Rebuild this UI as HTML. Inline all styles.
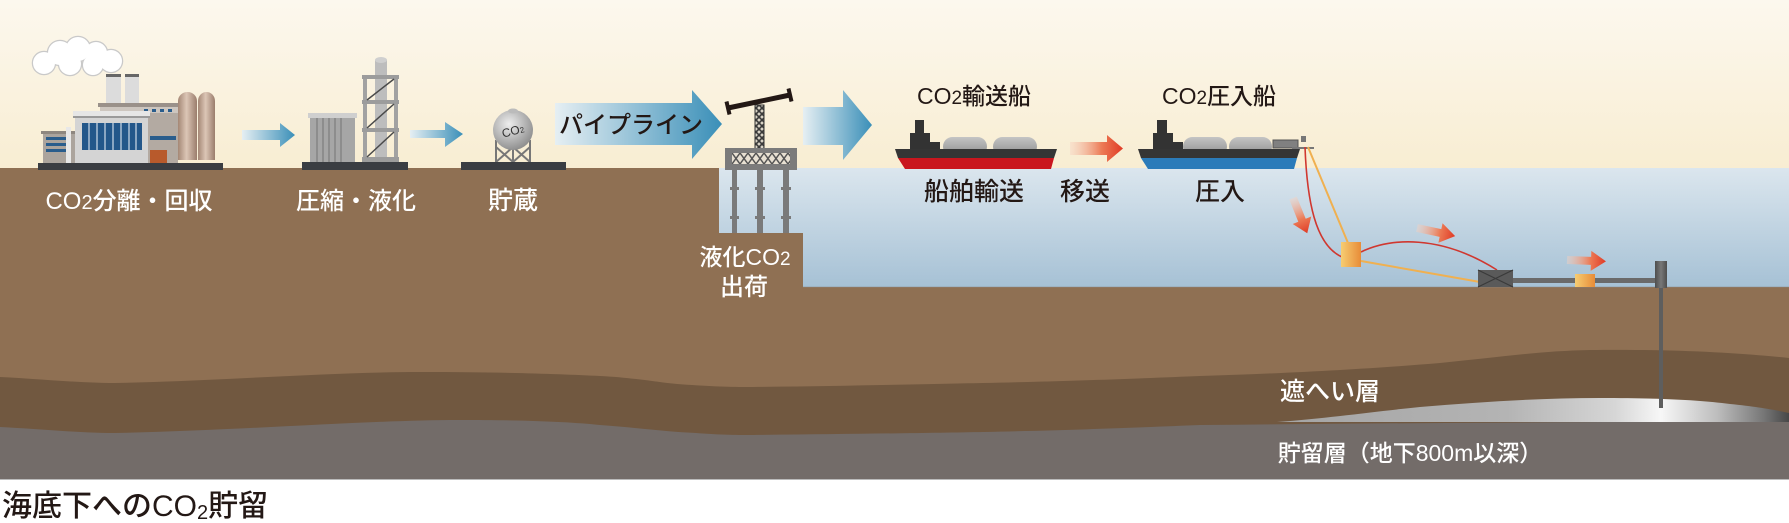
<!DOCTYPE html>
<html><head><meta charset="utf-8">
<style>
html,body{margin:0;padding:0;background:#fff;}
svg{display:block;}
text{font-family:"Liberation Sans","Noto Sans CJK JP",sans-serif;font-weight:500;}
</style></head><body>
<svg width="1789" height="523" viewBox="0 0 1789 523" xmlns="http://www.w3.org/2000/svg">
<defs>
 <linearGradient id="sky" x1="0" y1="0" x2="0" y2="1"><stop offset="0" stop-color="#fcf8ee"/><stop offset="1" stop-color="#f8edd2"/></linearGradient>
 <linearGradient id="sea" x1="0" y1="0" x2="0" y2="1"><stop offset="0" stop-color="#dbe6ee"/><stop offset="1" stop-color="#a6c1d5"/></linearGradient>
 <linearGradient id="ba" x1="0" y1="0" x2="1" y2="0"><stop offset="0" stop-color="#e6eff3"/><stop offset="1" stop-color="#3a8fb8"/></linearGradient>
 <linearGradient id="ra" x1="0" y1="0" x2="1" y2="0"><stop offset="0" stop-color="#f7d2c0" stop-opacity="0.4"/><stop offset="0.6" stop-color="#ec7a55"/><stop offset="1" stop-color="#e03a25"/></linearGradient>
 <linearGradient id="silo" x1="0" y1="0" x2="1" y2="0"><stop offset="0" stop-color="#a48775"/><stop offset="0.45" stop-color="#dcc6b6"/><stop offset="1" stop-color="#9a7d6c"/></linearGradient>
 <linearGradient id="tank" x1="0" y1="0" x2="0" y2="1"><stop offset="0" stop-color="#c4c4c4"/><stop offset="0.5" stop-color="#a9a9a9"/><stop offset="1" stop-color="#8c8c8c"/></linearGradient>
 <radialGradient id="sph" cx="0.4" cy="0.35" r="0.7"><stop offset="0" stop-color="#eeeeee"/><stop offset="1" stop-color="#8a8a8a"/></radialGradient>
 <linearGradient id="buoy" x1="0" y1="0" x2="1" y2="0"><stop offset="0" stop-color="#f6cd72"/><stop offset="1" stop-color="#e88c38"/></linearGradient>
 <linearGradient id="well" x1="0" y1="0" x2="1" y2="0"><stop offset="0" stop-color="#4e4e4e"/><stop offset="0.5" stop-color="#777"/><stop offset="1" stop-color="#4e4e4e"/></linearGradient>
 <linearGradient id="lens" gradientUnits="userSpaceOnUse" x1="1277" y1="0" x2="1789" y2="0">
  <stop offset="0" stop-color="#a4a4a4"/><stop offset="0.45" stop-color="#b4b4b4"/><stop offset="0.66" stop-color="#d6d6d6"/><stop offset="0.75" stop-color="#f7f7f7"/><stop offset="0.86" stop-color="#bdbdbd"/><stop offset="0.95" stop-color="#777"/><stop offset="1" stop-color="#474747"/>
 </linearGradient>
 <pattern id="lat" width="6" height="6" patternUnits="userSpaceOnUse"><rect width="6" height="6" fill="#d9d3c6"/><path d="M0,0L6,6M6,0L0,6" stroke="#3a3a3a" stroke-width="1.6"/></pattern>
 <pattern id="lat2" x="732" y="153" width="8" height="11" patternUnits="userSpaceOnUse"><rect width="8" height="11" fill="#e7e0d2"/><path d="M0,0L8,11M8,0L0,11" stroke="#555" stroke-width="1.5"/></pattern>
</defs>

<!-- background -->
<rect x="0" y="0" width="1789" height="523" fill="#fff"/>
<rect x="0" y="0" width="1789" height="169" fill="url(#sky)"/>
<rect x="0" y="168" width="1789" height="312" fill="#8f7053"/>
<polygon points="719,168 1789,168 1789,287 803,287 803,233 719,233" fill="url(#sea)"/>
<line x1="803" y1="287" x2="1789" y2="287" stroke="#8a8a8a" stroke-width="1" opacity="0.5"/>

<!-- cap rock -->
<path d="M0,377 C40,379 80,383 115,383 C220,381 330,372 421,372 C500,372 560,374 600,376 C640,378 665,384 692,385 C720,387 740,387 753,387 C850,386 930,384 983,383 C1080,381 1150,378 1200,376 C1300,373 1380,368 1440,363 C1500,357 1540,351 1590,350 C1680,349 1740,353 1789,358 L1789,480 L0,480 Z" fill="#715840"/>
<!-- reservoir -->
<path d="M0,427 C40,429 80,433 115,433 C250,430 370,420 459,420 C530,420 570,422 600,425 C640,428 670,432 696,433 C720,435 740,435 753,435 C850,434 930,433 983,432 C1080,430 1150,427 1200,425 C1400,423 1600,422 1789,421 L1789,479 L0,479 Z" fill="#736c69"/>
<!-- lens -->
<path d="M1277,422 C1330,418 1370,412 1420,407 C1480,402 1540,398 1600,398 C1660,398 1700,400 1730,404 C1760,407 1775,410 1789,413 L1789,422 Z" fill="url(#lens)"/>
<line x1="0" y1="479.5" x2="1789" y2="479.5" stroke="#bbb" stroke-width="1"/>

<!-- well -->
<rect x="1659" y="287" width="4" height="121" fill="#5e5e5e"/>

<!-- ===== Factory ===== -->
<g>
 <g fill="#fff" stroke="#c9c9c9" stroke-width="2.5">
  <circle cx="44" cy="63" r="11"/><circle cx="60" cy="53" r="12"/><circle cx="78" cy="49" r="12"/><circle cx="96" cy="53" r="11"/><circle cx="111" cy="61" r="11"/><circle cx="70" cy="64" r="11"/><circle cx="93" cy="65" r="10"/>
 </g>
 <g fill="#fff">
  <circle cx="44" cy="63" r="11"/><circle cx="60" cy="53" r="12"/><circle cx="78" cy="49" r="12"/><circle cx="96" cy="53" r="11"/><circle cx="111" cy="61" r="11"/><circle cx="70" cy="64" r="11"/><circle cx="93" cy="65" r="10"/>
 </g>
 <rect x="106" y="74" width="15" height="32" fill="#dcdcdc"/><rect x="106" y="74" width="15" height="3" fill="#666"/>
 <rect x="125" y="74" width="14" height="32" fill="#dcdcdc"/><rect x="125" y="74" width="14" height="3" fill="#666"/>
 <rect x="100" y="103" width="78" height="60" fill="#b3aaa2"/>
 <rect x="98" y="103" width="82" height="4" fill="#9a918a"/>
 <rect x="100" y="107" width="78" height="6" fill="#cdc6bf"/>
 <g fill="#2a5d8c"><rect x="152" y="109" width="4" height="3"/><rect x="160" y="109" width="4" height="3"/><rect x="168" y="109" width="4" height="3"/><rect x="144" y="109" width="4" height="3"/></g>
 <rect x="43" y="133" width="34" height="30" fill="#aba49d"/>
 <rect x="41" y="131" width="38" height="3" fill="#8e8780"/>
 <g fill="#2a5d8c"><rect x="46" y="137" width="22" height="3"/><rect x="46" y="143" width="22" height="3"/><rect x="46" y="149" width="22" height="3"/></g>
 <rect x="66" y="127" width="5" height="36" fill="#e8e8e8"/>
 <rect x="75" y="114" width="73" height="49" fill="#d4d4d4"/>
 <rect x="73" y="111" width="77" height="5" fill="#e6e6e6"/>
 <rect x="73" y="116" width="77" height="2" fill="#9a9a9a"/>
 <rect x="82" y="123" width="60" height="27" fill="#23578a"/>
 <g stroke="#cfdce8" stroke-width="1.2"><line x1="89" y1="123" x2="89" y2="150"/><line x1="97" y1="123" x2="97" y2="150"/><line x1="105" y1="123" x2="105" y2="150"/><line x1="113" y1="123" x2="113" y2="150"/><line x1="121" y1="123" x2="121" y2="150"/><line x1="129" y1="123" x2="129" y2="150"/><line x1="136" y1="123" x2="136" y2="150"/></g>
 <rect x="150" y="136" width="26" height="4" fill="#2a5d8c"/>
 <rect x="150" y="150" width="17" height="13" fill="#b85a2c"/>
 <path d="M178,160 V101 a9.5,9 0 0 1 19,0 V160 Z" fill="url(#silo)"/>
 <path d="M198,160 V101 a8.5,9 0 0 1 17,0 V160 Z" fill="url(#silo)"/>
 <rect x="38" y="163" width="185" height="7" fill="#3a3d42"/>
</g>

<!-- arrow 1 -->
<path d="M242,130 H280 V123 L295,135 L280,147 V140 H242 Z" fill="url(#ba)"/>

<!-- compressor -->
<g>
 <rect x="310" y="113" width="45" height="49" fill="#a6a6a6"/>
 <g stroke="#858585" stroke-width="1.5"><line x1="317" y1="118" x2="317" y2="162"/><line x1="323" y1="118" x2="323" y2="162"/><line x1="329" y1="118" x2="329" y2="162"/><line x1="335" y1="118" x2="335" y2="162"/><line x1="341" y1="118" x2="341" y2="162"/></g>
 <rect x="308" y="113" width="49" height="5" fill="#cfcfcf"/>
 <rect x="375" y="60" width="12" height="102" fill="#bdbdbd"/>
 <ellipse cx="381" cy="60" rx="6" ry="3" fill="#cfcfcf"/>
 <rect x="363" y="75" width="4" height="87" fill="#a2a2a2"/>
 <rect x="394" y="75" width="4" height="87" fill="#a2a2a2"/>
 <g fill="#9c9c9c"><rect x="362" y="75" width="37" height="4"/><rect x="362" y="100" width="37" height="4"/><rect x="362" y="128" width="37" height="4"/><rect x="362" y="157" width="37" height="5"/></g>
 <g stroke="#4a4a4a" stroke-width="1.5"><line x1="367" y1="100" x2="394" y2="79"/><line x1="367" y1="128" x2="394" y2="104"/><line x1="367" y1="157" x2="394" y2="132"/></g>
 <rect x="302" y="162" width="106" height="8" fill="#3a3d42"/>
</g>

<!-- arrow 2 -->
<path d="M410,130 H445 V122 L463,134 L445,147 V138 H410 Z" fill="url(#ba)"/>

<!-- sphere tank -->
<g>
 <g stroke="#777" stroke-width="2"><line x1="496" y1="140" x2="496" y2="162"/><line x1="530" y1="140" x2="530" y2="162"/><line x1="513" y1="146" x2="513" y2="162"/><line x1="496" y1="147" x2="513" y2="162"/><line x1="513" y1="147" x2="496" y2="162"/><line x1="513" y1="147" x2="530" y2="162"/><line x1="530" y1="147" x2="513" y2="162"/></g>
 <circle cx="513" cy="130" r="20" fill="url(#sph)"/>
 <ellipse cx="513" cy="111" rx="5" ry="2.5" fill="#bbb"/>
 <text x="513" y="135" font-size="12" fill="#333" text-anchor="middle" transform="rotate(-15 513 131)">CO<tspan font-size="8">2</tspan></text>
 <rect x="461" y="162" width="105" height="8" fill="#3a3d42"/>
</g>

<!-- pipeline arrow -->
<path d="M555,103 H692 V90 L722,124 L692,159 V145 H555 Z" fill="url(#ba)"/>
<text x="631" y="133" font-size="24" fill="#231815" text-anchor="middle">パイプライン</text>

<!-- pier -->
<g>
 <rect x="755" y="105" width="9" height="45" fill="url(#lat)" stroke="#333" stroke-width="1"/>
 <line x1="728" y1="108" x2="790" y2="95" stroke="#231815" stroke-width="5"/>
 <line x1="726.5" y1="101.5" x2="729.5" y2="114.5" stroke="#231815" stroke-width="4"/>
 <line x1="788.5" y1="88.5" x2="791.5" y2="101.5" stroke="#231815" stroke-width="4"/>
 <g fill="#7a7a7a"><rect x="732" y="170" width="5" height="63"/><rect x="757" y="170" width="6" height="63"/><rect x="783" y="170" width="6" height="63"/>
  <rect x="730" y="187" width="9" height="3"/><rect x="755" y="187" width="10" height="3"/><rect x="781" y="187" width="10" height="3"/>
  <rect x="730" y="216" width="9" height="3"/><rect x="755" y="216" width="10" height="3"/><rect x="781" y="216" width="10" height="3"/></g>
 <rect x="725" y="148" width="72" height="22" fill="#7b7b7b"/>
 <rect x="732" y="153" width="58" height="11" fill="url(#lat2)"/>
</g>

<!-- arrow 3 -->
<path d="M803,107 H843 V90 L872,125 L843,160 V145 H803 Z" fill="url(#ba)"/>

<!-- ship 1 -->
<g>
 <rect x="915" y="120" width="9" height="15" fill="#333"/>
 <rect x="910" y="133" width="20" height="17" fill="#333"/>
 <rect x="930" y="142" width="10" height="8" fill="#333"/>
 <rect x="943" y="137" width="44" height="19" rx="9.5" fill="url(#tank)"/>
 <rect x="993" y="137" width="44" height="19" rx="9.5" fill="url(#tank)"/>
 <polygon points="895,149 1057,149 1054,158 898,158" fill="#353535"/>
 <polygon points="898,158 1054,158 1051,169 905,169" fill="#c9161e"/>
</g>

<!-- red arrow -->
<path d="M1070,142 H1107 V135 L1123,148.5 L1107,162 V155 H1070 Z" fill="url(#ra)"/>

<!-- ship 2 -->
<g>
 <rect x="1157" y="120" width="10" height="15" fill="#333"/>
 <rect x="1153" y="133" width="20" height="17" fill="#333"/>
 <rect x="1173" y="142" width="10" height="8" fill="#333"/>
 <rect x="1183" y="137" width="44" height="19" rx="9.5" fill="url(#tank)"/>
 <rect x="1229" y="137" width="43" height="19" rx="9.5" fill="url(#tank)"/>
 <rect x="1273" y="140" width="25" height="8" fill="#808080" stroke="#555" stroke-width="1"/>
 <rect x="1301" y="136" width="5" height="6" fill="#777"/>
 <polygon points="1138,149 1300,149 1297,158 1141,158" fill="#353535"/>
 <polygon points="1141,158 1297,158 1294,169 1148,169" fill="#2b7bb9"/>
 <line x1="1292" y1="148" x2="1314" y2="148" stroke="#777" stroke-width="2"/>
</g>

<!-- injection lines -->
<path d="M1305,147 C1307,200 1315,245 1342,257" fill="none" stroke="#d0372f" stroke-width="1.6"/>
<path d="M1308,147 L1348,243" fill="none" stroke="#f0b050" stroke-width="2"/>
<path d="M1361,252 C1390,238 1440,234 1497,270" fill="none" stroke="#d0372f" stroke-width="1.6"/>
<path d="M1361,261 L1480,282" fill="none" stroke="#f0b050" stroke-width="2"/>
<rect x="1341" y="242" width="20" height="25" fill="url(#buoy)"/>
<rect x="1513" y="278" width="142" height="5" fill="#6a6a6a"/>
<rect x="1478" y="270" width="35" height="17" fill="#5a5a5a"/>
<path d="M1478,270 L1513,287 M1513,270 L1478,287" stroke="#3a3a3a" stroke-width="1.2"/>
<rect x="1575" y="274" width="20" height="13" fill="url(#buoy)"/>
<rect x="1655" y="261" width="12" height="27" fill="url(#well)"/>

<!-- small red arrows -->
<g fill="url(#ra)">
 <path transform="translate(1293,198) rotate(68)" d="M0,-4 H24 V-10 L38,0 L24,10 V4 H0 Z"/>
 <path transform="translate(1417,228) rotate(12)" d="M0,-4 H24 V-10 L39,0 L24,10 V4 H0 Z"/>
 <path transform="translate(1567,260) rotate(2)" d="M0,-4 H24 V-10 L39,0 L24,10 V4 H0 Z"/>
</g>

<!-- labels -->
<g font-size="24" fill="#fff" text-anchor="middle">
 <text x="129" y="209">CO<tspan font-size="20">2</tspan>分離・回収</text>
 <text x="356" y="209">圧縮・液化</text>
 <text x="513" y="209" font-size="25">貯蔵</text>
 <text x="745" y="265" font-size="23">液化CO<tspan font-size="19">2</tspan></text>
 <text x="744" y="295">出荷</text>
 <text x="1330" y="400" font-size="25">遮へい層</text>
 <text x="1410" y="461" font-size="23">貯留層（地下800m以深）</text>
</g>
<g font-size="25" fill="#231815" text-anchor="middle">
 <text x="974" y="104" font-size="23">CO<tspan font-size="19">2</tspan>輸送船</text>
 <text x="1219" y="104" font-size="23">CO<tspan font-size="19">2</tspan>圧入船</text>
 <text x="974" y="200">船舶輸送</text>
 <text x="1085" y="200">移送</text>
 <text x="1220" y="200">圧入</text>
</g>
<text x="2" y="516" font-size="30" fill="#231815">海底下へのCO<tspan font-size="20" dy="3">2</tspan><tspan dy="-3">貯留</tspan></text>
</svg>
</body></html>
